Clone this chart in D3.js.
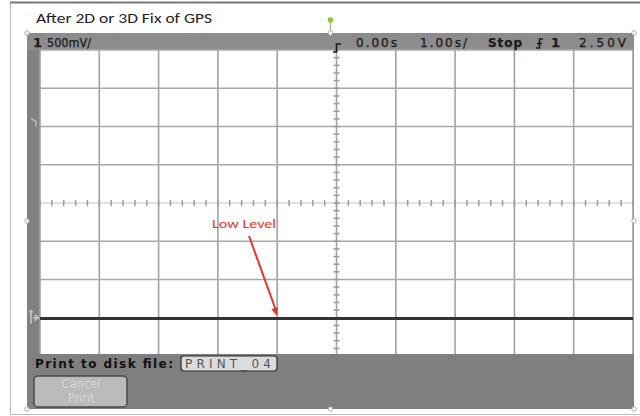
<!DOCTYPE html>
<html><head><meta charset="utf-8">
<script src="https://cdn.jsdelivr.net/npm/d3@7"></script>
<style>html,body{margin:0;padding:0;background:#fff;}svg{display:block;}</style>
</head><body>
<script>
// ---- data ----
const title = "After 2D or 3D Fix of GPS";
const timeTicks = [-5,-4,-3,-2,-1,0,1,2,3,4,5];           // seconds, 1.00 s/div
const voltTicks = [-0.5,0,0.5,1,1.5,2,2.5,3,3.5];          // volts, 500 mV/div
const traceTime = [-5,-2.5,0,2.5,5];
const traceVolt = [-0.01,-0.01,-0.01,-0.01,-0.01];
const channelLabel = ["1","500mV/"];
const timebaseLabels = ["0.00s","1.00s/","Stop"];
const triggerLabels = ["1","2.50V"];
const triggerLevel = 2.5;
const annotation = "Low Level";
const arrowTarget = {t: -1.0, v: 0.0};
const printLabel = "Print to disk file:";
const fileName = "PRINT_04";
const cancelLabel = ["Cancel","Print"];

// ---- drawing ----
const W=640,H=416;
const svg=d3.select("body").append("svg").attr("width",W).attr("height",H);
const x=d3.scaleLinear().domain([-5,5]).range([40,633]);
const y=d3.scaleLinear().domain([-0.5,3.5]).range([356,50]);
const font="'DejaVu Sans', 'Liberation Sans', sans-serif";

// outer frame
svg.append("rect").attr("x",10.5).attr("y",2.5).attr("width",640).attr("height",412)
  .attr("fill","none").attr("stroke","#bbb");
svg.append("line").attr("x1",10).attr("x2",640).attr("y1",2.5).attr("y2",2.5).attr("stroke","#777").attr("stroke-width",2);

// title
svg.append("text").attr("x",36).attr("y",23).attr("font-family","Carlito, 'Liberation Sans', sans-serif")
  .attr("font-size",14).attr("fill","#222").attr("textLength",176).attr("lengthAdjust","spacingAndGlyphs").text(title);
svg.append("text").attr("x",27).attr("y",18).attr("font-size",9).attr("fill","#bbb").text("·");

// scope panel
svg.append("rect").attr("x",27).attr("y",33).attr("width",607).attr("height",376).attr("fill","#818181");
svg.append("rect").attr("x",27).attr("y",33).attr("width",607).attr("height",17).attr("fill","#8c8c8c");

// grid
const g=svg.append("g");
g.append("rect").attr("x",x(-5)).attr("y",y(3.5)).attr("width",x(5)-x(-5)).attr("height",y(-0.5)-y(3.5)).attr("fill","#fff");
g.selectAll("line.v").data(timeTicks.filter(t=>t!==0)).enter().append("line")
  .attr("x1",d=>x(d)).attr("x2",d=>x(d)).attr("y1",y(3.5)).attr("y2",y(-0.5))
  .attr("stroke","#a2a2a2").attr("stroke-width",1.6);
g.selectAll("line.h").data(voltTicks.filter(v=>v!==1.5)).enter().append("line")
  .attr("x1",x(-5)).attr("x2",x(5)).attr("y1",d=>y(d)).attr("y2",d=>y(d))
  .attr("stroke","#a8a8a8").attr("stroke-width",1.5);
// center axes with minor ticks
g.append("line").attr("x1",x(-5)).attr("x2",x(5)).attr("y1",y(1.5)).attr("y2",y(1.5)).attr("stroke","#c4c4c4").attr("stroke-width",1.2);
g.append("line").attr("x1",x(0)).attr("x2",x(0)).attr("y1",y(3.5)).attr("y2",y(-0.5)).attr("stroke","#a2a2a2").attr("stroke-width",1.6);
const minorT=d3.range(-5,5.001,0.2), minorV=d3.range(-0.5,3.501,0.1);
g.selectAll("line.mt").data(minorT).enter().append("line")
  .attr("x1",d=>x(d)).attr("x2",d=>x(d)).attr("y1",y(1.5)-3).attr("y2",y(1.5)+3)
  .attr("stroke","#9a9a9a").attr("stroke-width",1.5);
g.selectAll("line.mv").data(minorV).enter().append("line")
  .attr("x1",x(0)-3).attr("x2",x(0)+3).attr("y1",d=>y(d)).attr("y2",d=>y(d))
  .attr("stroke","#9a9a9a").attr("stroke-width",1.5);

// trace
const line=d3.line().x((d,i)=>x(traceTime[i])).y((d,i)=>y(traceVolt[i]));
svg.append("path").datum(traceTime).attr("d",line).attr("fill","none").attr("stroke","#333").attr("stroke-width",3);

// left markers
svg.append("path").attr("d",`M31,${y(triggerLevel)-8} l5,3 l0,5`).attr("fill","none").attr("stroke","#b8b8b8").attr("stroke-width",1.5);
svg.append("path").attr("d",`M31,${y(0)-8} l0,14 M29,${y(0)-6} l4,0 M33,${y(0)} l5,0 l-3,-3 M38,${y(0)} l-3,3`).attr("fill","none").attr("stroke","#c8c8c8").attr("stroke-width",1.5);

// header
const hdr=svg.append("g").attr("font-family",font).attr("fill","#1b1b1b").attr("stroke","#1b1b1b").attr("stroke-width",0.25);
hdr.append("text").attr("x",33).attr("y",47).attr("font-size",13).attr("font-weight","bold").text(channelLabel[0]);
hdr.append("text").attr("x",47).attr("y",47).attr("font-size",11.5).attr("textLength",44).attr("lengthAdjust","spacingAndGlyphs").text(channelLabel[1]);
svg.append("path").attr("d","M333,52 L336.5,52 L336.5,44 L341,44").attr("fill","none").attr("stroke","#1b1b1b").attr("stroke-width",1.6);
hdr.append("text").attr("x",356).attr("y",47).attr("font-size",12).attr("textLength",41).attr("lengthAdjust","spacing").text(timebaseLabels[0]);
hdr.append("text").attr("x",420).attr("y",47).attr("font-size",12).attr("textLength",47).attr("lengthAdjust","spacing").text(timebaseLabels[1]);
hdr.append("text").attr("x",488).attr("y",47).attr("font-size",12).attr("font-weight","bold").attr("textLength",34).attr("lengthAdjust","spacing").text(timebaseLabels[2]);
svg.append("path").attr("d","M536,48 L539.5,48 L539.5,39 L543,39 M537,43.5 L542,43.5").attr("fill","none").attr("stroke","#1b1b1b").attr("stroke-width",1.6);
hdr.append("text").attr("x",551).attr("y",47).attr("font-size",13).attr("font-weight","bold").text(triggerLabels[0]);
hdr.append("text").attr("x",579).attr("y",47).attr("font-size",12).attr("textLength",47).attr("lengthAdjust","spacing").text(triggerLabels[1]);

// bottom panel
svg.append("rect").attr("x",27).attr("y",354).attr("width",607).attr("height",55).attr("fill","#7f7f7f");
svg.append("text").attr("x",35).attr("y",368).attr("font-family",font).attr("font-size",12).attr("font-weight","bold")
  .attr("fill","#111").attr("textLength",138).attr("lengthAdjust","spacing").text(printLabel);
svg.append("rect").attr("x",181).attr("y",356).attr("width",96).attr("height",15).attr("rx",3)
  .attr("fill","#dcdcdc").attr("stroke","#2b2b2b").attr("stroke-width",1.2);
svg.append("text").attr("x",185).attr("y",368).attr("font-family",font).attr("font-size",12)
  .attr("fill","#555").attr("textLength",86).attr("lengthAdjust","spacing").text(fileName);
svg.append("rect").attr("x",34).attr("y",376).attr("width",93).attr("height",31).attr("rx",4)
  .attr("fill","#bababa").attr("stroke","#4a4a4a").attr("stroke-width",1.5);
svg.append("text").attr("x",81).attr("y",388).attr("text-anchor","middle").attr("font-family",font).attr("font-size",11.5).attr("fill","#d6d6d6").text(cancelLabel[0]);
svg.append("text").attr("x",81).attr("y",402).attr("text-anchor","middle").attr("font-family",font).attr("font-size",11.5).attr("fill","#d6d6d6").text(cancelLabel[1]);

// annotation
const ax=x(arrowTarget.t), ay=y(arrowTarget.v)-2;
svg.append("text").attr("x",212).attr("y",228).attr("font-family","Carlito, 'Liberation Sans', sans-serif").attr("font-size",12.5)
  .attr("fill","#e2352c").attr("textLength",64).attr("lengthAdjust","spacingAndGlyphs").text(annotation);
svg.append("line").attr("x1",249).attr("y1",236).attr("x2",ax-1.5).attr("y2",ay-6).attr("stroke","#e2352c").attr("stroke-width",2);
const ang=Math.atan2(ay-236,ax-249);
const hl=8, hw=3.5;
const bx=ax-hl*Math.cos(ang), by=ay-hl*Math.sin(ang);
svg.append("path").attr("d",`M${ax},${ay} L${bx-hw*Math.sin(ang)},${by+hw*Math.cos(ang)} L${bx+hw*Math.sin(ang)},${by-hw*Math.cos(ang)} Z`).attr("fill","#e2352c");

// selection handles
svg.append("line").attr("x1",330.5).attr("x2",330.5).attr("y1",21).attr("y2",33).attr("stroke","#9ab").attr("stroke-width",1);
svg.append("circle").attr("cx",330.5).attr("cy",20).attr("r",2.8).attr("fill","#8dc63f");
[[27,33],[330.5,33],[634,33],[27,221],[634,221],[27,409],[330.5,409],[634,409]].forEach(p=>{
  svg.append("circle").attr("cx",p[0]).attr("cy",p[1]).attr("r",2.3).attr("fill","#f4f4f4").attr("stroke","#9aa4ae").attr("stroke-width",0.8);
});
</script>
</body></html>
